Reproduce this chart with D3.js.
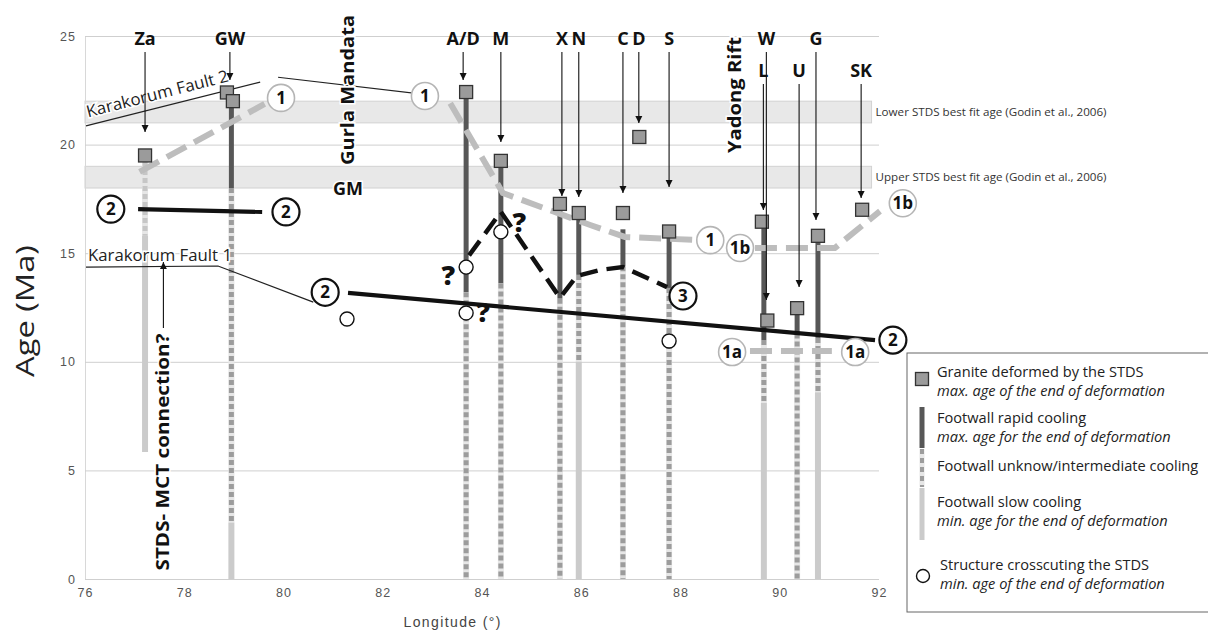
<!DOCTYPE html>
<html>
<head>
<meta charset="utf-8">
<script src="https://cdn.jsdelivr.net/npm/d3@7"></script>
<style>
  html, body { margin: 0; padding: 0; background: #fff; }
  svg { display: block; }
</style>
</head>
<body>
<svg id="chart" width="1208" height="632"></svg>
<script>
// ---- axis ticks ----
const lonTicks = [76, 78, 80, 82, 84, 86, 88, 90, 92];
const ageTicks = [0, 5, 10, 15, 20, 25];

// ---- STDS best-fit age bands (Godin et al., 2006) ----
const bandLabels = ["Lower STDS best fit age (Godin et al., 2006)", "Upper STDS best fit age (Godin et al., 2006)"];
const bandLow = [21, 18];
const bandHigh = [22, 19];

// ---- granites deformed by the STDS (max. age of the end of deformation) ----
const graniteLon = [77.21, 78.86, 78.98, 83.68, 84.38, 85.57, 85.95, 86.84, 87.17, 87.77, 89.64, 89.75, 90.35, 90.77, 91.66];
const graniteAge = [19.5, 22.4, 22.0, 22.42, 19.25, 17.27, 16.85, 16.85, 20.35, 16.0, 16.45, 11.9, 12.47, 15.8, 17.0];

// ---- footwall cooling columns ----
const coolLon    = [77.21, 77.21, 78.95, 78.95, 78.95, 83.68, 83.68, 84.38, 84.38, 85.57, 85.57, 85.95, 85.95, 85.95, 86.84, 86.84, 87.77, 87.77, 89.68, 89.68, 89.68, 90.35, 90.35, 90.77, 90.77, 90.77];
const coolTop    = [19.2, 15.8, 22.2, 18.0, 2.6, 22.4, 13.2, 19.2, 13.6, 17.2, 12.9, 16.8, 14.0, 10.0, 16.1, 14.4, 16.0, 13.4, 16.4, 11.0, 8.1, 12.4, 11.3, 15.7, 11.1, 8.6];
const coolBottom = [15.8, 5.85, 18.0, 2.6, 0, 13.2, 0, 13.6, 0, 12.9, 0, 14.0, 10.0, 0, 14.4, 0, 13.4, 0, 11.0, 8.1, 0, 11.3, 0, 11.1, 8.6, 0];
const coolKind   = ["faint", "slow", "rapid", "mid", "slow", "rapid", "mid", "rapid", "mid", "rapid", "mid", "rapid", "mid", "slow", "rapid", "mid", "rapid", "mid", "rapid", "mid", "slow", "rapid", "mid", "rapid", "mid", "slow"];

// ---- structures crosscutting the STDS (min. age of the end of deformation) ----
const crossLon = [83.68, 84.38, 83.68, 81.28, 87.77];
const crossAge = [14.36, 15.98, 12.25, 11.97, 10.96];

// ---- question marks on uncertain structures ----
const queryLon = [83.32, 84.75, 84.02];
const queryAge = [14.0, 16.44, 12.3];

// ---- locality labels with pointer arrows ----
const siteNames  = ["Za", "GW", "A/D", "M", "X", "N", "C", "D", "S", "W", "L", "U", "G", "SK"];
const siteLon    = [77.21, 78.92, 83.62, 84.38, 85.61, 85.95, 86.84, 87.16, 87.77, 89.73, 89.67, 90.39, 90.73, 91.64];
const siteRow    = [0, 0, 0, 0, 0, 0, 0, 0, 0, 0, 1, 1, 0, 1];
const siteTipAge = [20.58, 22.97, 22.97, 20.12, 17.63, 17.59, 17.77, 20.99, 18.05, 12.85, 16.99, 13.44, 16.53, 17.54];

// ---- interpretive correlation lines ([lon, age] vertices) ----
const line1West  = [[77.1, 18.74], [79.62, 21.87]];
const line1East  = [[83.36, 21.9], [84.42, 17.77], [86.18, 16.3], [86.88, 15.75], [88.39, 15.6]];
const line1b     = [[89.5, 15.24], [91.11, 15.24], [92.02, 16.94]];
const line1a     = [[89.4, 10.5], [91.05, 10.5]];
const line2North = [[77.07, 17.03], [79.57, 16.9]];
const line2South = [[81.3, 13.17], [91.92, 11.0]];
const line3      = [[83.74, 14.9], [84.38, 16.9], [85.57, 12.95], [85.91, 13.95], [86.38, 14.23], [86.84, 14.36], [87.73, 13.44]];
const faultK2    = [[76.02, 20.86], [79.53, 22.88]];
const faultK2b   = [[79.89, 23.1], [83.09, 22.24]];
const faultK1    = [[76.02, 14.36], [78.68, 14.41], [80.6, 12.75]];

// ---- circled line numbers ----
const tagText = ["1", "1", "1", "1b", "1b", "1a", "1a", "2", "2", "2", "2", "3"];
const tagLon  = [79.95, 82.85, 88.6, 89.2, 92.48, 89.04, 91.52, 76.52, 80.05, 80.84, 92.28, 88.05];
const tagAge  = [22.15, 22.24, 15.6, 15.24, 17.3, 10.45, 10.45, 17.03, 16.9, 13.2, 11.0, 13.03];
const tagDark = [false, false, false, false, false, false, false, true, true, true, true, true];

// ---- legend entries ----
const legendLines = [
  ["Granite deformed by the STDS", false],
  ["max. age of the end of deformation", true],
  ["Footwall rapid cooling", false],
  ["max. age for the end of deformation", true],
  ["Footwall unknow/intermediate cooling", false],
  ["Footwall slow cooling", false],
  ["min. age for the end of deformation", true],
  ["Structure crosscuting the STDS", false],
  ["min. age of the end of deformation", true]
];
const legendY = [372, 391, 418, 437, 466, 502, 521, 565, 584];

// ================= drawing =================
const svg = d3.select("#chart");
const FONT = "'Open Sans', 'Noto Sans', sans-serif";
const TICKFONT = "'Liberation Sans', Arial, sans-serif";

const x = d3.scaleLinear().domain([76, 92]).range([85, 879]);
const y = d3.scaleLinear().domain([0, 25]).range([579, 36]);
const line = d3.line().x(d => x(d[0])).y(d => y(d[1]));

const COL = { rapid: "#575757", mid: "#9c9c9c", faint: "#c6c6c6", slow: "#cbcbcb" };

// bands
const bands = svg.append("g");
bandLow.forEach((lo, i) => {
  bands.append("rect")
    .attr("x", x(76)).attr("width", x(91.85) - x(76))
    .attr("y", y(bandHigh[i])).attr("height", y(lo) - y(bandHigh[i]))
    .attr("fill", "#e8e8e8").attr("stroke", "#d2d2d2").attr("stroke-width", 1);
  bands.append("text")
    .attr("x", x(91.85) + 4).attr("y", (y(lo) + y(bandHigh[i])) / 2 + 4)
    .attr("font-family", FONT).attr("font-size", 11.2).attr("fill", "#333")
    .attr("textLength", 231).attr("lengthAdjust", "spacingAndGlyphs")
    .text(bandLabels[i]);
});

// grid
const yAxis = d3.axisLeft(y).tickValues(ageTicks).tickSize(-(x(92) - x(76))).tickPadding(9).tickFormat(d3.format("d"));
const gy = svg.append("g").attr("transform", `translate(${x(76)},0)`).call(yAxis);
gy.select(".domain").attr("stroke", "#d8d8d8");
gy.selectAll(".tick line").attr("stroke", "#cfcfcf");
gy.selectAll(".tick text").attr("font-family", TICKFONT).attr("font-size", 12.5).attr("fill", "#555")
  .attr("letter-spacing", 1);

const xAxis = d3.axisBottom(x).tickValues(lonTicks).tickSize(0).tickPadding(9).tickFormat(d3.format("d"));
const gx = svg.append("g").attr("transform", `translate(0,${y(0)})`).call(xAxis);
gx.select(".domain").remove();
gx.selectAll(".tick text").attr("font-family", TICKFONT).attr("font-size", 12.5).attr("fill", "#555")
  .attr("letter-spacing", 1);

svg.append("text").attr("x", 452).attr("y", 627).attr("text-anchor", "middle")
  .attr("font-family", TICKFONT).attr("font-size", 14).attr("fill", "#444")
  .attr("textLength", 97).attr("lengthAdjust", "spacing")
  .text("Longitude (°)");
svg.append("text").attr("transform", `translate(34,311) rotate(-90)`)
  .attr("text-anchor", "middle").attr("font-family", FONT).attr("font-size", 25).attr("fill", "#222")
  .attr("textLength", 132).attr("lengthAdjust", "spacingAndGlyphs")
  .text("Age (Ma)");

// cooling columns
const cols = svg.append("g");
coolLon.forEach((lon, i) => {
  const k = coolKind[i];
  const dashed = k === "mid" || k === "faint";
  if (dashed) {
    cols.append("line")
      .attr("x1", x(lon)).attr("x2", x(lon)).attr("y1", y(coolTop[i])).attr("y2", y(coolBottom[i]))
      .attr("stroke", "#e6e6e6").attr("stroke-width", 6);
  }
  cols.append("line")
    .attr("x1", x(lon)).attr("x2", x(lon)).attr("y1", y(coolTop[i])).attr("y2", y(coolBottom[i]))
    .attr("stroke", COL[k]).attr("stroke-width", k === "slow" ? 6 : 5)
    .attr("stroke-dasharray", dashed ? "5,3" : null);
});

// faults
const faults = svg.append("g").attr("fill", "none").attr("stroke", "#222").attr("stroke-width", 1.2);
[faultK2, faultK2b, faultK1].forEach(f => faults.append("path").attr("d", line(f)));

// grey correlation lines (1, 1a, 1b)
const grey = svg.append("g").attr("fill", "none").attr("stroke", "#bdbdbd").attr("stroke-width", 6)
  .attr("stroke-dasharray", "22,9");
[line1West, line1East, line1b, line1a].forEach(l => grey.append("path").attr("d", line(l)));

// black correlation lines (2, 3)
const black = svg.append("g").attr("fill", "none").attr("stroke", "#111").attr("stroke-width", 4.2);
[line2North, line2South].forEach(l => black.append("path").attr("d", line(l)));
black.append("path").attr("d", line(line3)).attr("stroke-dasharray", "18,9").attr("stroke-width", 4.5);

// fault labels with white halo
const halo = sel => sel.attr("stroke", "#fff").attr("stroke-width", 3).attr("paint-order", "stroke");
svg.append("text")
  .attr("transform", `translate(${x(76.06)},${y(21.25)}) rotate(-14.4)`)
  .attr("font-family", FONT).attr("font-size", 16.5).attr("fill", "#222")
  .attr("textLength", 146).attr("lengthAdjust", "spacingAndGlyphs")
  .call(halo).text("Karakorum Fault 2");
svg.append("text")
  .attr("x", x(76.06)).attr("y", y(14.65))
  .attr("font-family", FONT).attr("font-size", 16.5).attr("fill", "#222")
  .attr("textLength", 144).attr("lengthAdjust", "spacingAndGlyphs")
  .call(halo).text("Karakorum Fault 1");

// granite squares
const sq = 13;
svg.append("g").selectAll("rect").data(graniteLon).join("rect")
  .attr("x", (d) => x(d) - sq / 2).attr("y", (d, i) => y(graniteAge[i]) - sq / 2)
  .attr("width", sq).attr("height", sq)
  .attr("fill", "#9b9b9b").attr("stroke", "#333").attr("stroke-width", 1.3);

// crosscutting structures
svg.append("g").selectAll("circle").data(crossLon).join("circle")
  .attr("cx", d => x(d)).attr("cy", (d, i) => y(crossAge[i])).attr("r", 7)
  .attr("fill", "#fff").attr("stroke", "#111").attr("stroke-width", 1.4);

svg.append("g").selectAll("text").data(queryLon).join("text")
  .attr("x", d => x(d)).attr("y", (d, i) => y(queryAge[i]) + 10)
  .attr("text-anchor", "middle").attr("font-family", FONT).attr("font-weight", 800)
  .attr("font-size", 27).attr("fill", "#111").text("?");

// circled numbers
const tags = svg.append("g");
tagText.forEach((t, i) => {
  tags.append("circle").attr("cx", x(tagLon[i])).attr("cy", y(tagAge[i])).attr("r", 13.5)
    .attr("fill", "#fff").attr("stroke", tagDark[i] ? "#111" : "#b5b5b5").attr("stroke-width", tagDark[i] ? 2.2 : 1.6);
  tags.append("text").attr("x", x(tagLon[i])).attr("y", y(tagAge[i]) + 6)
    .attr("text-anchor", "middle").attr("font-family", FONT).attr("font-weight", 700)
    .attr("font-size", 17).attr("fill", "#111").text(t);
});

// site labels + arrows
const defs = svg.append("defs");
defs.append("marker").attr("id", "head").attr("viewBox", "0 0 10 10")
  .attr("refX", 10).attr("refY", 5).attr("markerWidth", 7).attr("markerHeight", 9)
  .attr("markerUnits", "userSpaceOnUse").attr("orient", "auto")
  .append("path").attr("d", "M0,0L10,5L0,10Z").attr("fill", "#111");
const rowBase = [45, 77];
const rowArrowStart = [52, 84];
const sites = svg.append("g");
siteNames.forEach((n, i) => {
  sites.append("line").attr("x1", x(siteLon[i])).attr("x2", x(siteLon[i]))
    .attr("y1", rowArrowStart[siteRow[i]]).attr("y2", y(siteTipAge[i]))
    .attr("stroke", "#111").attr("stroke-width", 1.1).attr("marker-end", "url(#head)");
  sites.append("text").attr("x", x(siteLon[i])).attr("y", rowBase[siteRow[i]])
    .attr("text-anchor", "middle").attr("font-family", FONT).attr("font-weight", 700)
    .attr("font-size", 18).attr("fill", "#111").text(n);
});

// vertical annotations
const vtext = (lon, cy, len, t) => svg.append("text")
  .attr("transform", `translate(${x(lon)},${cy}) rotate(-90)`)
  .attr("text-anchor", "middle").attr("font-family", FONT).attr("font-weight", 700)
  .attr("font-size", 18.5).attr("fill", "#111")
  .attr("textLength", len).attr("lengthAdjust", "spacingAndGlyphs")
  .call(halo).text(t);
vtext(81.42, 90, 150, "Gurla Mandata");
vtext(89.22, 95, 116, "Yadong Rift");
vtext(77.7, 452, 237, "STDS- MCT connection?");
svg.append("text").attr("x", x(81.3)).attr("y", 195).attr("text-anchor", "middle")
  .attr("font-family", FONT).attr("font-weight", 700).attr("font-size", 18).attr("fill", "#111")
  .call(halo).text("GM");
svg.append("line").attr("x1", x(77.58)).attr("x2", x(77.58)).attr("y1", 328).attr("y2", 262)
  .attr("stroke", "#111").attr("stroke-width", 1.1).attr("marker-end", "url(#head)");

// legend
const lg = svg.append("g");
lg.append("rect").attr("x", 907).attr("y", 353).attr("width", 320).attr("height", 259)
  .attr("fill", "#fff").attr("stroke", "#666").attr("stroke-width", 1);
lg.append("rect").attr("x", 922 - sq / 2).attr("y", 379 - sq / 2).attr("width", sq).attr("height", sq)
  .attr("fill", "#9b9b9b").attr("stroke", "#333").attr("stroke-width", 1.3);
lg.append("line").attr("x1", 922).attr("x2", 922).attr("y1", 407).attr("y2", 448)
  .attr("stroke", COL.rapid).attr("stroke-width", 5);
lg.append("line").attr("x1", 922).attr("x2", 922).attr("y1", 449).attr("y2", 487)
  .attr("stroke", "#e6e6e6").attr("stroke-width", 5);
lg.append("line").attr("x1", 922).attr("x2", 922).attr("y1", 449).attr("y2", 487)
  .attr("stroke", COL.mid).attr("stroke-width", 4).attr("stroke-dasharray", "5,4");
lg.append("line").attr("x1", 922).attr("x2", 922).attr("y1", 488).attr("y2", 540)
  .attr("stroke", COL.slow).attr("stroke-width", 5);
lg.append("circle").attr("cx", 923).attr("cy", 576).attr("r", 6.5)
  .attr("fill", "#fff").attr("stroke", "#111").attr("stroke-width", 1.4);
legendLines.forEach((l, i) => {
  lg.append("text").attr("x", i >= 7 ? 940 : 937).attr("y", legendY[i] + 5)
    .attr("font-family", FONT).attr("font-size", 14.6).attr("fill", "#222")
    .attr("font-style", l[1] ? "italic" : "normal").text(l[0]);
});
</script>
</body>
</html>
